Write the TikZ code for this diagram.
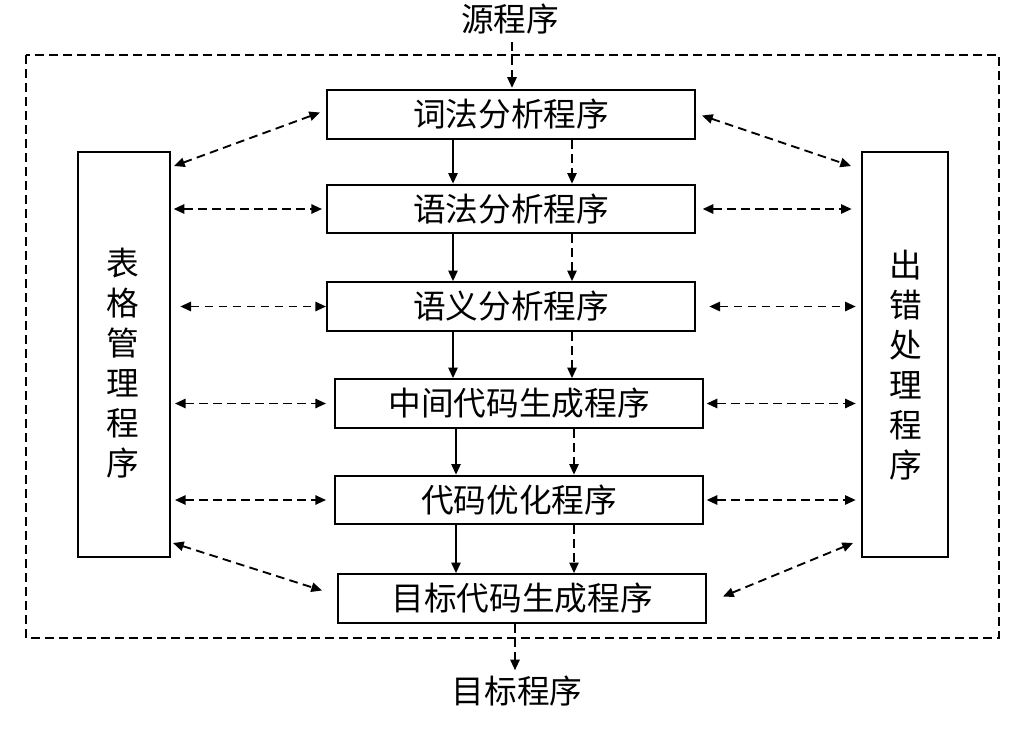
\documentclass[tikz,border=0pt]{standalone}
\usepackage{fontspec}
\setmainfont{Noto Sans CJK SC}
\usetikzlibrary{arrows.meta}
\begin{document}
\begin{tikzpicture}[x=0.75pt,y=-0.75pt,
  txt/.style={font=\fontsize{24.5}{30}\selectfont},
  box/.style={draw, line width=1.5pt, minimum width=276pt, minimum height=36.5pt, inner sep=0pt, txt},
  side/.style={draw, line width=1.5pt, minimum height=303.75pt, inner sep=0pt},
  vtext/.style={txt, align=center, inner sep=0pt},
  flow/.style={line width=1.4pt, -{Triangle[length=8pt,width=7pt]}},
  dflow/.style={flow, dash pattern=on 6.5pt off 4pt},
  link/.style={line width=1.4pt, dash pattern=on 6.5pt off 4pt, {Triangle[length=8pt,width=7pt]}-{Triangle[length=8pt,width=7pt]}},
  frame/.style={line width=1.3pt, dash pattern=on 6.5pt off 4pt}
]
\useasboundingbox (0,0) rectangle (1034,732);
\draw[frame] (26,55) rectangle (999,638);

\node[txt, inner sep=2pt] (src) at (510,19) {源程序};
\node[txt, inner sep=2pt] (tgt) at (517,691) {目标程序};

\node[box] (b1) at (511,114.5) {词法分析程序};
\node[box] (b2) at (511,209) {语法分析程序};
\node[box] (b3) at (511,306.5) {语义分析程序};
\node[box] (b4) at (519,403.5) {中间代码生成程序};
\node[box] (b5) at (519,500) {代码优化程序};
\node[box] (b6) at (522,598.5) {目标代码生成程序};

\node[side, minimum width=69pt] (lb) at (124,354.5) {};
\node[side, minimum width=64.5pt] (rb) at (905,354.5) {};
\node[vtext] (lbt) at (123,363) {表\\格\\管\\理\\程\\序};
\node[vtext] (rbt) at (906,365) {出\\错\\处\\理\\程\\序};

% columns for the vertical flows
\coordinate (sa) at (453,0);
\coordinate (sb) at (456,0);
\coordinate (da) at (572,0);
\coordinate (db) at (574,0);
\coordinate (io) at (512,0);
\coordinate (oo) at (515,0);

\draw[dflow, shorten <=4pt, shorten >=1pt] (src.south -| io) -- (b1.north -| io);
\draw[dflow, shorten >=2pt] (b6.south -| oo) -- (tgt.north -| oo);

\draw[flow] (b1.south -| sa) -- (b2.north -| sa);
\draw[flow] (b2.south -| sa) -- (b3.north -| sa);
\draw[flow] (b3.south -| sa) -- (b4.north -| sa);
\draw[flow] (b4.south -| sb) -- (b5.north -| sb);
\draw[flow] (b5.south -| sb) -- (b6.north -| sb);

\draw[dflow] (b1.south -| da) -- (b2.north -| da);
\draw[dflow] (b2.south -| da) -- (b3.north -| da);
\draw[dflow] (b3.south -| da) -- (b4.north -| da);
\draw[dflow] (b4.south -| db) -- (b5.north -| db);
\draw[dflow] (b5.south -| db) -- (b6.north -| db);

% left links
\draw[link] ([shift={(3,15)}]lb.north east) -- ([shift={(-6,-2)}]b1.west);
\draw[link, shorten <=2pt, shorten >=3pt] (lb.east |- b2) -- (b2.west);
\draw[link, shorten <=7pt, shorten >=0pt] (lb.east |- b3) -- (b3.west);
\draw[link, shorten <=3pt, shorten >=6pt] (lb.east |- b4) -- (b4.west);
\draw[link, shorten <=3pt, shorten >=6pt] (lb.east |- b5) -- (b5.west);
\draw[link] ([shift={(2,-15)}]lb.south east) -- ([shift={(-15,-8)}]b6.west);

% right links
\draw[link] ([shift={(6,1)}]b1.east) -- ([shift={(-10,15)}]rb.north west);
\draw[link, shorten <=5pt, shorten >=7pt] (b2.east) -- (rb.west |- b2);
\draw[link, shorten <=10pt, shorten >=4pt] (b3.east) -- (rb.west |- b3);
\draw[link, shorten <=2pt, shorten >=4pt] (b4.east) -- (rb.west |- b4);
\draw[link, shorten <=2pt, shorten >=4pt] (b5.east) -- (rb.west |- b5);
\draw[link] ([shift={(16,-2)}]b6.east) -- ([shift={(-8,-15)}]rb.south west);
\end{tikzpicture}
\end{document}
